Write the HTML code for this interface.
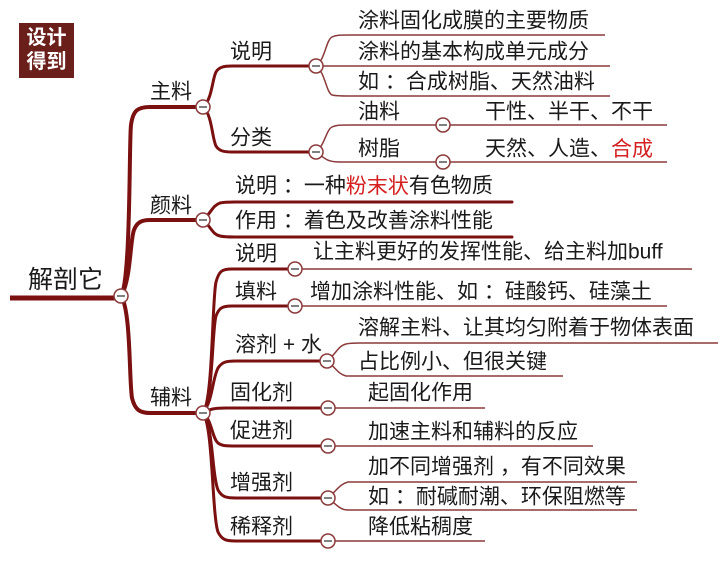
<!DOCTYPE html>
<html><head><meta charset="utf-8"><style>
html,body{margin:0;padding:0;background:#fff;}
svg{display:block;}
text{font-family:"Liberation Sans","Noto Sans CJK SC",sans-serif;fill:#1a1a1a;font-size:21px;dominant-baseline:central;}
.l1{stroke:#7a1010;stroke-width:4;fill:none;stroke-linecap:round}
.l2{stroke:#7a1010;stroke-width:3;fill:none;stroke-linecap:round}
.l3{stroke:#8a3a3a;stroke-width:1.5;fill:none}
.c circle{fill:#fff;stroke:#8a3a3a;stroke-width:1.5}
.c line{stroke:#555;stroke-width:1.5}
.r{fill:#d42020}
</style></head><body>
<svg width="720" height="563" viewBox="0 0 720 563">
<rect x="19" y="23" width="55" height="55" fill="#6b1f1a"/>
<text x="46.5" y="38" text-anchor="middle" style="fill:#fff;font-weight:bold;font-size:20px">设计</text>
<text x="46.5" y="62" text-anchor="middle" style="fill:#fff;font-weight:bold;font-size:20px">得到</text>

<!-- root -->
<line x1="10" y1="298" x2="117" y2="298" stroke="#7a1010" stroke-width="5"/>
<text x="28" y="280" style="font-size:25px">解剖它</text>
<path class="l1" d="M121,296 C131,280 129,140 131,125 C133,110 138,107 150,107 H197"/>
<path class="l1" d="M121,296 C131,280 130,240 134,230 C137,222 142,220 150,220 H197"/>
<path class="l1" d="M121,296 C131,310 129,380 132,398 C135,410 140,413 150,413 H197"/>
<text x="150" y="92">主料</text>
<text x="150" y="206">颜料</text>
<text x="150" y="398">辅料</text>

<!-- 主料 -->
<path class="l2" d="M203,107 C212,100 212,80 216,72 C219,67 224,66 232,66 H310"/>
<path class="l2" d="M203,107 C212,114 212,138 216,146 C219,151 224,152 232,152 H310"/>
<text x="230" y="52">说明</text>
<text x="230" y="138">分类</text>
<path class="l3" d="M316,66 C325,60 326,40 332,37 C336,35 340,35 350,35 H605"/>
<path class="l3" d="M316,66 H610"/>
<path class="l3" d="M316,66 C325,72 326,92 332,95 C336,96 340,96 350,96 H610"/>
<text x="358" y="21">涂料固化成膜的主要物质</text>
<text x="358" y="52">涂料的基本构成单元成分</text>
<text x="358" y="82">如 ：合成树脂、天然油料</text>
<path class="l3" d="M316,152 C325,145 326,130 332,127 C336,125 340,125 350,125 H437"/>
<path class="l3" d="M316,152 C325,158 326,162 340,162 H437"/>
<path class="l3" d="M443,125 H667"/>
<path class="l3" d="M443,162 H667"/>
<text x="358" y="112">油料</text>
<text x="358" y="149">树脂</text>
<text x="485" y="112">干性、半干、不干</text>
<text x="485" y="149">天然、人造、<tspan class="r">合成</tspan></text>

<!-- 颜料 -->
<path class="l2" d="M203,220 C212,212 212,206 220,203 C224,202 228,202 235,202 H512"/>
<path class="l2" d="M203,220 C212,228 212,234 220,236 C224,237 228,237 235,237 H512"/>
<text x="235" y="186">说明 ：一种<tspan class="r">粉末状</tspan>有色物质</text>
<text x="235" y="221">作用 ：着色及改善涂料性能</text>

<!-- 辅料 -->
<path class="l2" d="M203,413 C213,400 212,300 216,282 C219,271 222,269 232,269 H289"/>
<path class="l2" d="M203,413 C213,400 212,330 216,316 C219,308 222,306 232,306 H289"/>
<path class="l2" d="M203,413 C213,400 212,380 218,368 C222,362 226,361 236,361 H321"/>
<path class="l2" d="M203,413 C210,409 214,408 226,408 H321"/>
<path class="l2" d="M203,413 C212,420 212,438 218,443 C222,446 226,446 236,446 H321"/>
<path class="l2" d="M203,413 C213,425 212,475 218,490 C222,497 226,498 236,498 H321"/>
<path class="l2" d="M203,413 C213,425 212,515 218,532 C222,540 226,541 236,541 H321"/>
<text x="235" y="254">说明</text>
<text x="235" y="292">填料</text>
<text x="235" y="345">溶剂 + 水</text>
<text x="230" y="393">固化剂</text>
<text x="230" y="431">促进剂</text>
<text x="230" y="483">增强剂</text>
<text x="230" y="527">稀释剂</text>

<path class="l3" d="M295,269 H692"/>
<text x="313" y="252">让主料更好的发挥性能、给主料加buff</text>
<path class="l3" d="M295,306 H667"/>
<text x="310" y="292">增加涂料性能、如 ：硅酸钙、硅藻土</text>
<path class="l3" d="M327,361 C336,354 338,346 346,344 C350,343 354,343 360,343 H718"/>
<path class="l3" d="M327,361 C336,368 338,374 346,376 C350,376 354,376 360,376 H563"/>
<text x="358" y="328">溶解主料、让其均匀附着于物体表面</text>
<text x="358" y="362">占比例小、但很关键</text>
<path class="l3" d="M328,408 H485"/>
<text x="368" y="393">起固化作用</text>
<path class="l3" d="M328,446 H593"/>
<text x="368" y="432">加速主料和辅料的反应</text>
<path class="l3" d="M328,498 C337,490 340,484 348,482 C352,482 356,482 362,482 H637"/>
<path class="l3" d="M328,498 C337,505 340,510 348,510 H637"/>
<text x="368" y="467">加不同增强剂 ，有不同效果</text>
<text x="368" y="497">如 ：耐碱耐潮、环保阻燃等</text>
<path class="l3" d="M328,541 H485"/>
<text x="368" y="527">降低粘稠度</text>

<!-- collapse circles -->
<g class="c">
<circle cx="121" cy="296" r="7"/><line x1="117" y1="296" x2="125" y2="296"/>
<circle cx="203" cy="107" r="7"/><line x1="199" y1="107" x2="207" y2="107"/>
<circle cx="203" cy="220" r="7"/><line x1="199" y1="220" x2="207" y2="220"/>
<circle cx="203" cy="413" r="7"/><line x1="199" y1="413" x2="207" y2="413"/>
<circle cx="316" cy="66" r="7"/><line x1="312" y1="66" x2="320" y2="66"/>
<circle cx="316" cy="152" r="7"/><line x1="312" y1="152" x2="320" y2="152"/>
<circle cx="443" cy="125" r="7"/><line x1="439" y1="125" x2="447" y2="125"/>
<circle cx="443" cy="162" r="7"/><line x1="439" y1="162" x2="447" y2="162"/>
<circle cx="295" cy="269" r="7"/><line x1="291" y1="269" x2="299" y2="269"/>
<circle cx="295" cy="306" r="7"/><line x1="291" y1="306" x2="299" y2="306"/>
<circle cx="327" cy="361" r="7"/><line x1="323" y1="361" x2="331" y2="361"/>
<circle cx="328" cy="408" r="7"/><line x1="324" y1="408" x2="332" y2="408"/>
<circle cx="328" cy="446" r="7"/><line x1="324" y1="446" x2="332" y2="446"/>
<circle cx="328" cy="498" r="7"/><line x1="324" y1="498" x2="332" y2="498"/>
<circle cx="328" cy="541" r="7"/><line x1="324" y1="541" x2="332" y2="541"/>
</g>
</svg>
</body></html>
